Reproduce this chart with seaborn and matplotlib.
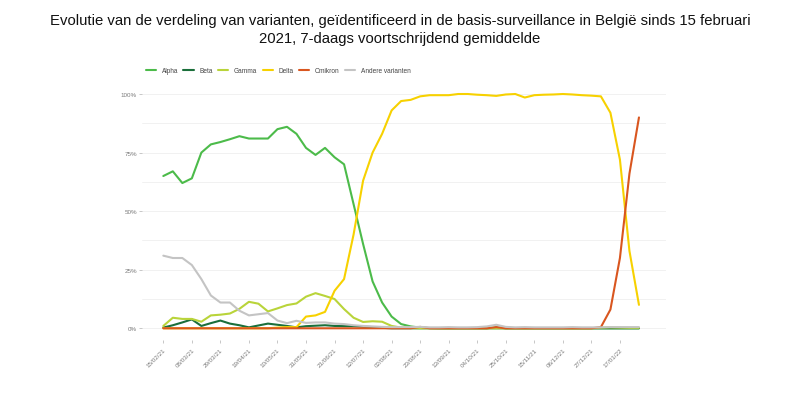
import pandas as pd
import numpy as np
import matplotlib
matplotlib.use("Agg")
import matplotlib.pyplot as plt
import matplotlib.dates as mdates
import seaborn as sns

# weekly values (%), starting 15/02/21
start_date = "2021-02-15"
n_weeks = 51

alpha = [65, 67, 62, 64, 75, 78.5, 79.5, 80.7, 82, 81, 81, 81, 85, 86, 83, 77, 74, 77, 73, 70,
         53, 36, 20, 11, 5, 1.8, 0.8, 0.3, 0.1, 0, 0, 0, 0, 0, 0, 0.4, 0, 0, 0, 0,
         0, 0, 0, 0, 0, 0, 0, 0, 0, 0, 0]
beta = [0.3, 1.3, 2.5, 3.8, 1, 2.2, 3.3, 2, 1.3, 0.4, 1.2, 2, 1.5, 1, 0.4, 0.9, 1.1, 1.3, 1, 0.9,
        0.9, 0.7, 0.5, 0.2, 0, 0, 0, 0, 0, 0, 0, 0, 0, 0, 0, 0, 0, 0, 0, 0,
        0, 0, 0, 0, 0, 0, 0, 0, 0, 0, 0]
gamma = [1, 4.5, 4, 4, 2.8, 5.5, 5.8, 6.3, 8.3, 11.3, 10.5, 7.2, 8.5, 9.9, 10.6, 13.5, 15, 13.8, 12.5, 8.2,
         4.5, 2.7, 3, 2.8, 1, 0.3, 0.1, 0, 0, 0, 0, 0, 0, 0, 0, 0, 0, 0, 0, 0,
         0, 0, 0, 0, 0, 0, 0.3, 0.4, 0.3, 0.2, 0.2]
delta = [0, 0, 0, 0, 0, 0, 0, 0, 0, 0, 0, 0, 0.3, 0.5, 0.5, 5, 5.5, 7, 16, 21,
         40, 63, 75, 83, 93, 97, 97.5, 99, 99.5, 99.5, 99.5, 100, 100, 99.7, 99.5, 99.2, 99.8, 100, 98.5, 99.5,
         99.7, 99.8, 100, 99.8, 99.5, 99.3, 99, 92, 72, 33, 10]
omikron = [0, 0, 0, 0, 0, 0, 0, 0, 0, 0, 0, 0, 0, 0, 0, 0, 0, 0, 0, 0,
           0, 0, 0, 0, 0, 0, 0, 0.6, 0, 0, 0, 0, 0, 0, 0, 0.5, 0, 0, 0, 0,
           0, 0, 0, 0, 0, 0, 0.5, 8, 30, 66, 90]
andere = [31, 30, 30, 27, 21, 14, 11, 11, 7.5, 5.5, 6, 6.5, 3.3, 2.2, 3.2, 2.3, 2.5, 2.5, 2, 1.8,
          1.3, 1, 0.8, 0.6, 0.5, 0.5, 0.5, 0.6, 0.4, 0.4, 0.5, 0.4, 0.4, 0.5, 0.8, 1.5, 0.6, 0.4, 0.5, 0.4,
          0.4, 0.4, 0.4, 0.5, 0.4, 0.4, 0.4, 0.5, 0.5, 0.5, 0.5]

variants = ["Alpha", "Beta", "Gamma", "Delta", "Omikron", "Andere varianten"]
colors = ["#4cbb4a", "#1b6f3b", "#b9d43a", "#f7d100", "#d9561f", "#c4c4c4"]
tick_dates = pd.date_range("2021-02-15", "2022-01-17", freq="21D")

dates = pd.date_range(start_date, periods=n_weeks, freq="7D")
df = pd.DataFrame({"datum": dates, "Alpha": alpha, "Beta": beta, "Gamma": gamma,
                   "Delta": delta, "Omikron": omikron, "Andere varianten": andere})
long = df.melt(id_vars="datum", var_name="variant", value_name="pct")

sns.set_style("white")
plt.rcParams["font.family"] = ["Liberation Sans", "DejaVu Sans"]

fig = plt.figure(figsize=(8, 4.06), dpi=100)
ax = fig.add_axes([141.7 / 800, 1 - 341 / 406, (666 - 141.7) / 800, (341 - 83.3) / 406])

sns.lineplot(data=long, x="datum", y="pct", hue="variant", hue_order=variants,
             palette=dict(zip(variants, colors)), linewidth=1.5, ax=ax)

handles, labels = ax.get_legend_handles_labels()
ax.get_legend().remove()
leg = fig.legend(handles, labels, loc="center left", bbox_to_anchor=(145.5 / 800, 1 - 71.7 / 406),
                 ncol=6, frameon=False, fontsize=4.7, handlelength=1.6, handletextpad=0.85,
                 columnspacing=0.8, borderpad=0, borderaxespad=0)
for t in leg.get_texts():
    t.set_color("#444444")

# x range: 15/02/21 sits at ~21.6 px from the panel edge
t0 = pd.Timestamp(start_date)
ax.set_xlim(t0 - pd.Timedelta(days=15.9), t0 + pd.Timedelta(days=369.9))
ax.set_ylim(-5, 105)

ax.set_xticks(tick_dates)
ax.xaxis.set_major_formatter(mdates.DateFormatter("%d/%m/%y"))
ax.set_yticks([0, 25, 50, 75, 100])
ax.set_yticklabels(["0%", "25%", "50%", "75%", "100%"])
ax.set_yticks([12.5, 37.5, 62.5, 87.5], minor=True)

for lab in ax.get_xticklabels():
    lab.set_rotation(45)
    lab.set_ha("right")
    lab.set_va("top")
    lab.set_rotation_mode("anchor")

ax.tick_params(axis="both", which="major", labelsize=4.5, labelcolor="#7a7a7a",
               color="#b0b0b0", length=2, width=0.5, pad=1.5, bottom=True, left=True)
ax.tick_params(axis="x", pad=3)
ax.tick_params(axis="y", which="minor", length=0)

ax.grid(axis="y", which="both", color="#efefef", linewidth=0.6)
ax.grid(axis="x", visible=False)
for s in ax.spines.values():
    s.set_visible(False)
ax.set_xlabel("")
ax.set_ylabel("")

fig.text(0.5, 1 - 43 / 406,
         "Evolutie van de verdeling van varianten, geïdentificeerd in de basis-surveillance in België sinds 15 februari\n"
         "2021, 7-daags voortschrijdend gemiddelde",
         ha="center", va="baseline", fontsize=10.7, linespacing=1.35, color="#111111")

fig.savefig("out.png", dpi=100)
